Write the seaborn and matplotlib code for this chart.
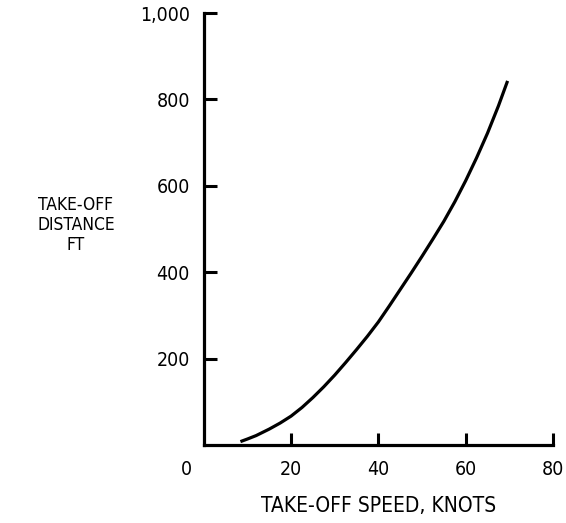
import matplotlib
matplotlib.use("Agg")
import matplotlib.pyplot as plt
import matplotlib.transforms as mtransforms
import seaborn as sns
import pandas as pd

# Data
speed_knots = [8.4, 10, 12, 15, 17.5, 20, 22.5, 25, 27.5, 30, 32.5, 35, 37.5, 40,
               42.5, 45, 47.5, 50, 52.5, 55, 57.5, 60, 62.5, 65, 67.5, 69.6]
distance_ft = [8, 14, 22, 37, 51, 67, 87, 110, 135, 162, 191, 221, 252, 285,
               322, 360, 398, 437, 477, 518, 563, 612, 665, 722, 785, 843]
x_ticks = [0, 20, 40, 60, 80]
x_tick_labels = ["0", "20", "40", "60", "80"]
y_ticks = [200, 400, 600, 800, 1000]
y_tick_labels = ["200", "400", "600", "800", "1,000"]

sns.set_style("ticks")
plt.rcParams['font.family'] = ['DejaVu Sans']
plt.rcParams['font.stretch'] = 'condensed'
plt.rcParams['text.color'] = 'black'
plt.rcParams['axes.labelcolor'] = 'black'

df = pd.DataFrame({"speed": speed_knots, "distance": distance_ft})

fig = plt.figure(figsize=(5.66, 5.23), dpi=100)
ax = fig.add_axes([0.360, 0.149, 0.617, 0.826])

sns.lineplot(data=df, x="speed", y="distance", ax=ax, color="black",
             linewidth=2.3, sort=True, solid_capstyle="butt", solid_joinstyle="round")

ax.set_xlim(0, 80)
ax.set_ylim(0, 1000)
ax.set_xticks(x_ticks)
ax.set_xticklabels(x_tick_labels)
ax.set_yticks(y_ticks)
ax.set_yticklabels(y_tick_labels)

for s in ["top", "right"]:
    ax.spines[s].set_visible(False)
for s in ["left", "bottom"]:
    ax.spines[s].set_linewidth(2.3)
    ax.spines[s].set_color("black")

ax.tick_params(axis="both", direction="in", length=9, width=2.2,
               colors="black", labelcolor="black", labelsize=14, pad=10)
ax.tick_params(axis="x", pad=11)

# shift the "0" label left of the origin as in the reference
lbl0 = ax.get_xticklabels()[0]
lbl0.set_transform(lbl0.get_transform() +
                   mtransforms.ScaledTranslation(-17 / 100, 0, fig.dpi_scale_trans))
ax.xaxis.get_major_ticks()[0].tick1line.set_visible(False)

ax.set_xlabel("TAKE-OFF SPEED, KNOTS", fontsize=15, labelpad=12, color="black")
ax.set_ylabel("")
fig.text(76 / 566, 1 - 225 / 523, "TAKE-OFF\nDISTANCE\nFT", ha="center",
         va="center", fontsize=12.5, linespacing=1.15, color="black")

ax.grid(False)
fig.savefig("out.png", dpi=100)
